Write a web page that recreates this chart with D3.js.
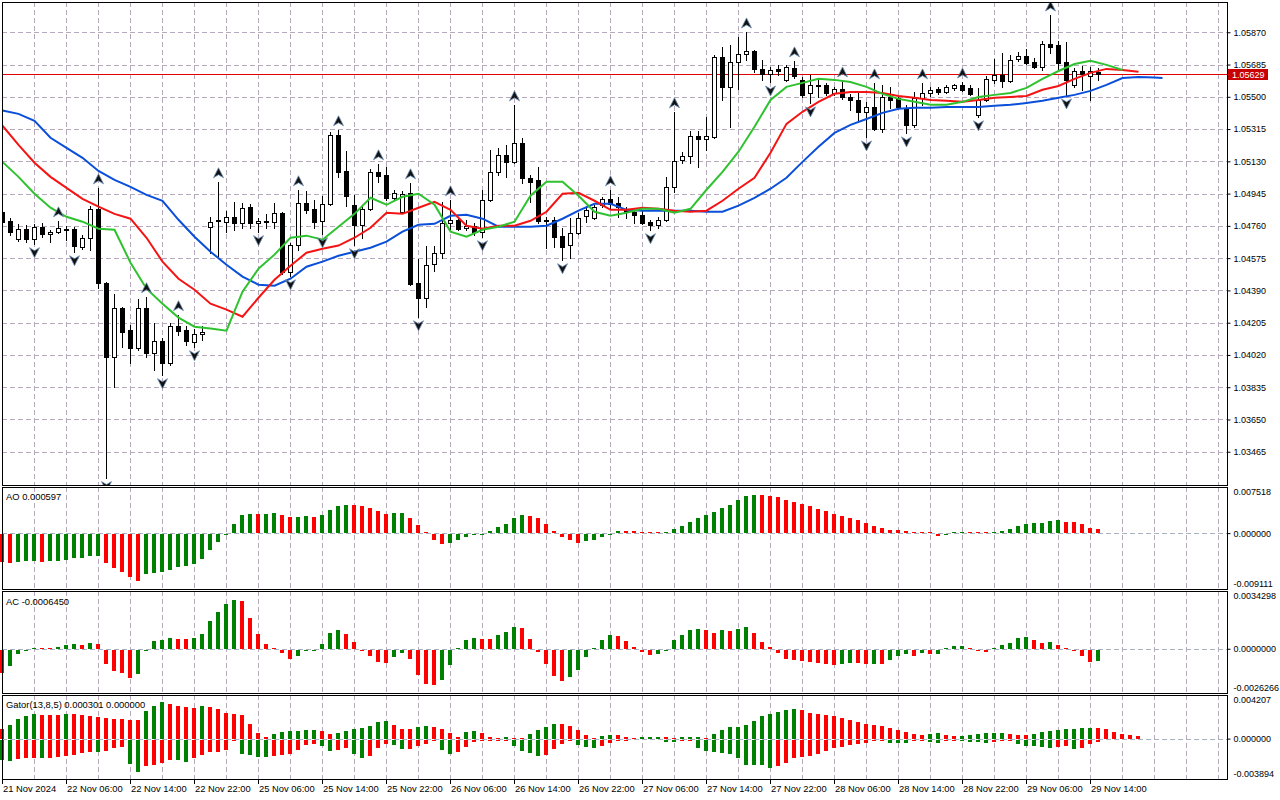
<!DOCTYPE html>
<html>
<head>
<meta charset="utf-8">
<script src="https://cdn.jsdelivr.net/npm/d3@7"></script>
<style>
  body { margin: 0; background: #fff; }
  svg { display: block; font-family: "Liberation Sans", Arial, sans-serif; font-size: 9.4px; }
  .axis text, .tag { font-size: 9px; }
</style>
</head>
<body>
<div id="chart"></div>
<script>
// EURUSD H1 with Alligator, Fractals, AO, AC and Gator

// candles, one per hour from 21 Nov 22:00 to 29 Nov 15:00
const opens = [
  1.04841,1.04789,1.04687,1.04744,1.04687,1.04755,1.04715,1.04727,1.04744,1.04744,
  1.04641,1.04692,1.04858,1.04434,1.04010,1.04291,1.04165,1.04062,1.04291,1.04033,
  1.04102,1.03976,1.04188,1.04165,1.04096,1.04142,1.04755,1.04792,1.04784,1.04812,
  1.04778,1.04870,1.04778,1.04789,1.04784,1.04835,1.04497,1.04652,1.04893,1.04858,
  1.04789,1.04887,1.05282,1.05076,1.04881,1.04766,1.04858,1.05070,1.05053,1.04921,
  1.04841,1.04950,1.04434,1.04348,1.04543,1.04606,1.04778,1.04795,1.04749,1.04761,
  1.04727,1.04910,1.05070,1.05167,1.05127,1.05236,1.05036,1.05024,1.04795,1.04795,
  1.04704,1.04652,1.04721,1.04818,1.04806,1.04881,1.04915,1.04893,1.04858,1.04841,
  1.04824,1.04784,1.04766,1.04795,1.04984,1.05139,1.05162,1.05276,1.05259,1.05270,
  1.05729,1.05557,1.05700,1.05746,1.05763,1.05660,1.05631,1.05660,1.05597,1.05666,
  1.05597,1.05522,1.05568,1.05568,1.05522,1.05545,1.05499,1.05482,1.05414,1.05442,
  1.05316,1.05499,1.05494,1.05437,1.05339,1.05494,1.05522,1.05545,1.05528,1.05551,
  1.05568,1.05551,1.05396,1.05482,1.05597,1.05625,1.05591,1.05717,1.05734,1.05700,
  1.05671,1.05803,1.05797,1.05700,1.05568,1.05648,1.05620,1.05643
];
const highs = [
  1.04852,1.04806,1.04772,1.04766,1.04772,1.04778,1.04738,1.04789,1.04761,1.04755,
  1.04709,1.04876,1.04978,1.04440,1.04371,1.04297,1.04194,1.04343,1.04354,1.04205,
  1.04119,1.04205,1.04251,1.04188,1.04171,1.04188,1.04812,1.05013,1.04847,1.04898,
  1.04893,1.04887,1.04806,1.04829,1.04893,1.04841,1.04664,1.04967,1.04961,1.04910,
  1.04933,1.05299,1.05311,1.05190,1.04938,1.04881,1.05087,1.05116,1.05099,1.04967,
  1.04961,1.05007,1.04572,1.04647,1.04647,1.04898,1.04910,1.04812,1.04795,1.04778,
  1.04967,1.05196,1.05207,1.05225,1.05454,1.05265,1.05053,1.05099,1.04812,1.04812,
  1.04749,1.04806,1.04835,1.04876,1.04881,1.04927,1.04967,1.04927,1.04870,1.04852,
  1.04852,1.04795,1.04812,1.05041,1.05414,1.05185,1.05305,1.05305,1.05385,1.05740,
  1.05786,1.05797,1.05843,1.05872,1.05769,1.05711,1.05671,1.05683,1.05683,1.05706,
  1.05614,1.05625,1.05608,1.05580,1.05557,1.05591,1.05517,1.05528,1.05471,1.05580,
  1.05568,1.05557,1.05505,1.05454,1.05528,1.05580,1.05557,1.05557,1.05568,1.05574,
  1.05585,1.05568,1.05551,1.05620,1.05717,1.05751,1.05740,1.05757,1.05774,1.05723,
  1.05820,1.05969,1.05820,1.05814,1.05666,1.05677,1.05671,1.05666
];
const lows = [
  1.04772,1.04709,1.04675,1.04670,1.04658,1.04698,1.04670,1.04721,1.04681,1.04612,
  1.04629,1.04623,1.04405,1.03317,1.03839,1.04067,1.03976,1.04050,1.04010,1.03936,
  1.03907,1.03964,1.04136,1.04079,1.04067,1.04108,1.04606,1.04589,1.04727,1.04738,
  1.04749,1.04749,1.04727,1.04749,1.04749,1.04486,1.04474,1.04623,1.04835,1.04749,
  1.04715,1.04881,1.05041,1.04876,1.04652,1.04692,1.04852,1.05013,1.04910,1.04910,
  1.04835,1.04423,1.04239,1.04297,1.04503,1.04577,1.04738,1.04738,1.04738,1.04709,
  1.04698,1.04904,1.05053,1.05041,1.05122,1.05007,1.04898,1.04778,1.04635,1.04641,
  1.04566,1.04577,1.04715,1.04784,1.04801,1.04870,1.04864,1.04812,1.04806,1.04778,
  1.04772,1.04738,1.04749,1.04789,1.04956,1.05122,1.05122,1.05099,1.05196,1.05265,
  1.05482,1.05328,1.05545,1.05711,1.05643,1.05597,1.05585,1.05625,1.05591,1.05608,
  1.05499,1.05465,1.05499,1.05511,1.05511,1.05488,1.05425,1.05356,1.05270,1.05311,
  1.05299,1.05437,1.05437,1.05293,1.05328,1.05454,1.05505,1.05517,1.05522,1.05540,
  1.05534,1.05511,1.05385,1.05477,1.05580,1.05557,1.05585,1.05706,1.05688,1.05666,
  1.05654,1.05751,1.05654,1.05511,1.05557,1.05540,1.05482,1.05597
];
const closes = [
  1.04784,1.04727,1.04744,1.04687,1.04755,1.04715,1.04727,1.04749,1.04743,1.04647,
  1.04692,1.04858,1.04434,1.04010,1.04291,1.04154,1.04062,1.04291,1.04033,1.04102,
  1.03976,1.04188,1.04159,1.04102,1.04142,1.04154,1.04784,1.04787,1.04812,1.04778,
  1.04864,1.04778,1.04789,1.04790,1.04835,1.04497,1.04652,1.04893,1.04852,1.04784,
  1.04887,1.05282,1.05070,1.04933,1.04766,1.04858,1.05070,1.05047,1.04921,1.04950,
  1.04944,1.04428,1.04348,1.04537,1.04606,1.04778,1.04795,1.04744,1.04761,1.04727,
  1.04910,1.05070,1.05167,1.05127,1.05236,1.05036,1.05013,1.04789,1.04794,1.04698,
  1.04641,1.04721,1.04806,1.04852,1.04870,1.04915,1.04887,1.04870,1.04841,1.04824,
  1.04778,1.04766,1.04795,1.04984,1.05133,1.05162,1.05276,1.05259,1.05276,1.05729,
  1.05557,1.05700,1.05746,1.05763,1.05660,1.05631,1.05654,1.05648,1.05671,1.05620,
  1.05511,1.05568,1.05566,1.05522,1.05545,1.05499,1.05482,1.05414,1.05442,1.05316,
  1.05499,1.05482,1.05442,1.05339,1.05494,1.05522,1.05540,1.05528,1.05557,1.05568,
  1.05540,1.05517,1.05482,1.05603,1.05625,1.05591,1.05711,1.05734,1.05694,1.05671,
  1.05803,1.05786,1.05694,1.05597,1.05648,1.05631,1.05648,1.05629
];
const lastPrice = 1.05629;

// bars that carry a fractal arrow
const fractalUp = [7, 12, 18, 22, 27, 37, 42, 47, 51, 56, 64, 76, 84, 93, 99, 105, 109, 115, 120, 131];
const fractalDown = [4, 9, 13, 20, 24, 32, 36, 40, 44, 52, 60, 70, 81, 96, 101, 108, 113, 122, 133];

// Alligator, read every second bar (lines are shifted past the last candle)
const jaw = [
  1.05422,1.05402,1.05362,1.05265,1.05207,1.05150,1.05075,1.05024,1.04984,1.04938,
  1.04904,1.04795,1.04698,1.04612,1.04537,1.04469,1.04423,1.04417,1.04457,1.04526,
  1.04555,1.04589,1.04612,1.04635,1.04670,1.04727,1.04766,1.04772,1.04818,1.04824,
  1.04801,1.04755,1.04755,1.04755,1.04761,1.04801,1.04847,1.04887,1.04887,1.04852,
  1.04847,1.04847,1.04847,1.04847,1.04841,1.04841,1.04876,1.04921,1.04973,1.05036,
  1.05127,1.05213,1.05293,1.05339,1.05373,1.05408,1.05431,1.05437,1.05437,1.05442,
  1.05442,1.05442,1.05448,1.05454,1.05465,1.05477,1.05494,1.05511,1.05534,1.05568,
  1.05608,1.05614,1.05611,1.05608
];
const teeth = [
  1.05334,1.05224,1.05122,1.05041,1.04978,1.04915,1.04870,1.04829,1.04801,1.04692,
  1.04555,1.04457,1.04394,1.04314,1.04280,1.04239,1.04348,1.04451,1.04532,1.04606,
  1.04629,1.04647,1.04692,1.04749,1.04835,1.04829,1.04864,1.04898,1.04852,1.04761,
  1.04744,1.04761,1.04761,1.04789,1.04841,1.04944,1.04950,1.04904,1.04852,1.04852,
  1.04864,1.04858,1.04847,1.04841,1.04847,1.04904,1.04973,1.05036,1.05179,1.05345,
  1.05414,1.05471,1.05517,1.05528,1.05528,1.05522,1.05505,1.05494,1.05482,1.05477,
  1.05471,1.05482,1.05494,1.05499,1.05505,1.05540,1.05562,1.05603,1.05637,1.05660,
  1.05654,1.05643
];
const lips = [
  1.05127,1.05041,1.04944,1.04864,1.04812,1.04784,1.04744,1.04738,1.04549,1.04400,
  1.04314,1.04234,1.04182,1.04171,1.04159,1.04383,1.04514,1.04595,1.04692,1.04704,
  1.04681,1.04755,1.04829,1.04921,1.04881,1.04927,1.04944,1.04881,1.04727,1.04698,
  1.04738,1.04755,1.04784,1.04933,1.05013,1.05013,1.04933,1.04841,1.04818,1.04835,
  1.04858,1.04858,1.04835,1.04858,1.04967,1.05070,1.05185,1.05328,1.05482,1.05557,
  1.05580,1.05603,1.05597,1.05585,1.05557,1.05517,1.05488,1.05471,1.05454,1.05454,
  1.05471,1.05499,1.05511,1.05522,1.05551,1.05603,1.05648,1.05688,1.05706,1.05683,
  1.05654
];

const aoValues = [
  -0.00459,-0.00470,-0.00448,-0.00444,-0.00440,-0.00448,-0.00445,-0.00431,-0.00415,-0.00393,
  -0.00382,-0.00355,-0.00349,-0.00464,-0.00546,-0.00612,-0.00693,-0.00759,-0.00655,-0.00628,
  -0.00612,-0.00579,-0.00541,-0.00519,-0.00486,-0.00410,-0.00262,-0.00131,-0.00003,0.00153,
  0.00300,0.00317,0.00314,0.00318,0.00320,0.00289,0.00257,0.00262,0.00273,0.00270,
  0.00289,0.00382,0.00448,0.00464,0.00456,0.00448,0.00415,0.00355,0.00317,0.00320,
  0.00333,0.00251,0.00126,0.00002,-0.00093,-0.00158,-0.00137,-0.00093,-0.00044,-0.00022,
  -0.00005,0.00038,0.00104,0.00153,0.00251,0.00300,0.00284,0.00240,0.00153,0.00038,
  -0.00055,-0.00104,-0.00142,-0.00120,-0.00093,-0.00044,-0.00002,0.00035,0.00033,0.00031,
  0.00018,0.00006,0.00002,0.00004,0.00071,0.00120,0.00186,0.00251,0.00300,0.00349,
  0.00415,0.00464,0.00546,0.00612,0.00628,0.00617,0.00612,0.00595,0.00546,0.00513,
  0.00475,0.00442,0.00399,0.00368,0.00306,0.00284,0.00240,0.00207,0.00158,0.00120,
  0.00076,0.00055,0.00052,0.00038,0.00005,0.00002,0.00001,-0.00027,-0.00002,0.00015,
  0.00018,0.00012,0.00005,0.00001,0.00020,0.00038,0.00071,0.00120,0.00153,0.00158,
  0.00169,0.00202,0.00207,0.00186,0.00180,0.00153,0.00087,0.000597
];
const acValues = [
  -0.00136,-0.00096,-0.00028,-0.00004,0.00004,0.00003,0.00001,0.00012,0.00024,0.00030,
  0.00024,0.00036,0.00030,-0.00082,-0.00126,-0.00136,-0.00167,-0.00142,-0.00002,0.00044,
  0.00054,0.00066,0.00060,0.00056,0.00066,0.00090,0.00167,0.00221,0.00263,0.00287,
  0.00281,0.00185,0.00090,0.00030,0.00001,-0.00022,-0.00054,-0.00036,-0.00010,-0.00001,
  0.00030,0.00096,0.00114,0.00090,0.00042,-0.00004,-0.00036,-0.00072,-0.00078,-0.00040,
  -0.00022,-0.00052,-0.00147,-0.00203,-0.00209,-0.00179,-0.00090,0.00006,0.00054,0.00066,
  0.00060,0.00059,0.00084,0.00102,0.00132,0.00126,0.00060,-0.00012,-0.00084,-0.00155,
  -0.00185,-0.00161,-0.00120,-0.00042,0.00006,0.00054,0.00084,0.00078,0.00048,0.00012,
  -0.00012,-0.00030,-0.00028,-0.00001,0.00054,0.00084,0.00114,0.00120,0.00114,0.00096,
  0.00114,0.00108,0.00120,0.00132,0.00096,0.00042,0.00012,-0.00022,-0.00054,-0.00060,
  -0.00066,-0.00072,-0.00078,-0.00082,-0.00090,-0.00082,-0.00076,-0.00077,-0.00084,-0.00082,
  -0.00084,-0.00060,-0.00036,-0.00028,-0.00036,-0.00022,-0.00028,-0.00027,0.00001,0.00018,
  0.00019,0.00006,-0.00010,-0.00011,0.00006,0.00024,0.00036,0.00066,0.00072,0.00054,
  0.00036,0.00042,0.00024,0.00006,-0.00010,-0.00036,-0.00072,-0.000645
];
const gatorUpper = [
  0.00096,0.00134,0.00192,0.00218,0.00240,0.00230,0.00229,0.00228,0.00240,0.00237,
  0.00224,0.00218,0.00208,0.00202,0.00192,0.00191,0.00182,0.00176,0.00262,0.00317,
  0.00355,0.00336,0.00317,0.00304,0.00298,0.00310,0.00309,0.00285,0.00250,0.00234,
  0.00227,0.00144,0.00058,0.00019,0.00048,0.00067,0.00077,0.00078,0.00080,0.00086,
  0.00077,0.00048,0.00051,0.00077,0.00096,0.00099,0.00125,0.00163,0.00173,0.00134,
  0.00096,0.00090,0.00112,0.00125,0.00115,0.00096,0.00058,0.00019,0.00067,0.00077,
  0.00058,0.00019,0.00010,0.00019,0.00010,0.00003,0.00048,0.00086,0.00115,0.00144,
  0.00143,0.00125,0.00086,0.00038,0.00010,0.00029,0.00038,0.00037,0.00019,0.00010,
  0.00011,0.00019,0.00020,0.00018,0.00010,0.00011,0.00019,0.00020,0.00010,0.00048,
  0.00086,0.00115,0.00116,0.00134,0.00173,0.00221,0.00240,0.00259,0.00278,0.00288,
  0.00278,0.00250,0.00240,0.00230,0.00221,0.00202,0.00182,0.00163,0.00144,0.00134,
  0.00125,0.00106,0.00086,0.00067,0.00048,0.00038,0.00048,0.00050,0.00038,0.00029,
  0.00030,0.00038,0.00048,0.00051,0.00058,0.00059,0.00048,0.00038,0.00037,0.00048,
  0.00067,0.00077,0.00086,0.00088,0.00096,0.00098,0.00106,0.00104,0.00096,0.00067,
  0.00048,0.00038,0.000301
];
const gatorLower = [
  -0.00198,-0.00208,-0.00186,-0.00179,-0.00178,-0.00180,-0.00179,-0.00170,-0.00154,-0.00144,
  -0.00128,-0.00118,-0.00119,-0.00106,-0.00083,-0.00074,-0.00237,-0.00314,-0.00256,-0.00246,
  -0.00227,-0.00195,-0.00198,-0.00218,-0.00176,-0.00144,-0.00122,-0.00121,-0.00102,-0.00006,
  -0.00134,-0.00150,-0.00163,-0.00170,-0.00160,-0.00150,-0.00134,-0.00096,-0.00048,-0.00045,
  -0.00064,-0.00112,-0.00099,-0.00080,-0.00134,-0.00176,-0.00160,-0.00080,-0.00038,-0.00054,
  -0.00093,-0.00090,-0.00064,-0.00038,-0.00002,-0.00096,-0.00134,-0.00115,-0.00067,-0.00019,
  -0.00003,-0.00002,-0.00001,-0.00001,-0.00058,-0.00106,-0.00125,-0.00154,-0.00144,-0.00086,
  -0.00038,-0.00002,-0.00048,-0.00067,-0.00077,-0.00058,-0.00029,-0.00002,-0.00001,0,
  0,0,0,-0.00019,-0.00020,-0.00018,-0.00002,-0.00077,-0.00106,-0.00115,
  -0.00125,-0.00134,-0.00182,-0.00240,-0.00241,-0.00242,-0.00269,-0.00259,-0.00221,-0.00182,
  -0.00163,-0.00154,-0.00134,-0.00106,-0.00077,-0.00067,-0.00048,-0.00038,-0.00029,-0.00005,
  -0.00003,-0.00029,-0.00030,-0.00031,-0.00003,-0.00002,-0.00019,-0.00029,-0.00002,-0.00001,
  -0.00010,-0.00019,-0.00021,-0.00029,-0.00019,-0.00010,-0.00003,-0.00038,-0.00058,-0.00059,
  -0.00067,-0.00077,-0.00067,-0.00064,-0.00086,-0.00077,-0.00038,-0.00019
];

const priceTicks = [1.05870, 1.05685, 1.05500, 1.05315, 1.05130, 1.04945, 1.04760,
                    1.04575, 1.04390, 1.04205, 1.04020, 1.03835, 1.03650, 1.03465];
const timeLabels = ['21 Nov 2024', '22 Nov 06:00', '22 Nov 14:00', '22 Nov 22:00', '25 Nov 06:00',
  '25 Nov 14:00', '25 Nov 22:00', '26 Nov 06:00', '26 Nov 14:00', '26 Nov 22:00', '27 Nov 06:00',
  '27 Nov 14:00', '27 Nov 22:00', '28 Nov 06:00', '28 Nov 14:00', '28 Nov 22:00', '29 Nov 06:00',
  '29 Nov 14:00'];

// ---------------------------------------------------------------------------

const GREEN = '#008000', RED = '#ff0000', GRID = '#b7a9bd';
const left = 2, right = 1227;

// plain hyphen for negatives, like the terminal
const fmt = d3.formatLocale({ decimal: '.', thousands: ',', grouping: [3], currency: ['', ''], minus: '-' }).format;

// pane boxes [top, bottom]
const mainBox = [2, 485], aoBox = [487, 589], acBox = [591, 693], gatorBox = [695, 779];

const svg = d3.select('#chart').append('svg')
    .attr('width', 1280)
    .attr('height', 800);

// one bar every 8 px
const x = d3.scaleLinear().domain([0, 153]).range([2, 1226]);

const yMain = d3.scaleLinear().domain([1.032744, 1.060435]).range([mainBox[1], mainBox[0]]);
const yAO = d3.scaleLinear().domain([-0.009111, 0.007518]).range([aoBox[1], aoBox[0]]);
const yAC = d3.scaleLinear().domain([-0.0026266, 0.0034298]).range([acBox[1], acBox[0]]);
const yGator = d3.scaleLinear().domain([-0.003894, 0.004207]).range([gatorBox[1], gatorBox[0]]);

const crisp = v => Math.round(v) + 0.5;

// vertical grid, every 4 bars across all panes
const vGrid = d3.range(4, 153, 4);
[mainBox, aoBox, acBox, gatorBox].forEach(box => {
    svg.append('g')
        .selectAll('line')
        .data(vGrid)
        .join('line')
        .attr('x1', d => crisp(x(d)))
        .attr('x2', d => crisp(x(d)))
        .attr('y1', box[0])
        .attr('y2', box[1])
        .attr('stroke', GRID)
        .attr('stroke-dasharray', '5,3');
});

// horizontal grid in main pane
svg.append('g')
    .selectAll('line')
    .data(priceTicks)
    .join('line')
    .attr('x1', left)
    .attr('x2', right)
    .attr('y1', d => crisp(yMain(d)))
    .attr('y2', d => crisp(yMain(d)))
    .attr('stroke', GRID)
    .attr('stroke-dasharray', '5,3');

// zero lines in indicator panes
[yAO, yAC, yGator].forEach(y => {
    svg.append('line')
        .attr('x1', left).attr('x2', right)
        .attr('y1', crisp(y(0))).attr('y2', crisp(y(0)))
        .attr('stroke', '#a9b3bf')
        .attr('stroke-dasharray', '5,3');
});

// ---- main pane ----
svg.append('clipPath').attr('id', 'clipMain')
    .append('rect')
    .attr('x', left).attr('y', mainBox[0])
    .attr('width', right - left).attr('height', mainBox[1] - mainBox[0]);

const main = svg.append('g').attr('clip-path', 'url(#clipMain)');

// current price line
main.append('line')
    .attr('x1', left).attr('x2', right)
    .attr('y1', crisp(yMain(lastPrice))).attr('y2', crisp(yMain(lastPrice)))
    .attr('stroke', '#e00000');

const bars = d3.range(opens.length);

main.append('g')
    .selectAll('line')
    .data(bars)
    .join('line')
    .attr('x1', i => x(i) + 0.5)
    .attr('x2', i => x(i) + 0.5)
    .attr('y1', i => Math.round(yMain(highs[i])))
    .attr('y2', i => Math.round(yMain(lows[i])) + 1)
    .attr('stroke', '#000');

main.append('g')
    .selectAll('rect')
    .data(bars)
    .join('rect')
    .attr('x', i => x(i) - 1.5)
    .attr('width', 4)
    .attr('y', i => Math.round(yMain(Math.max(opens[i], closes[i]))) + 0.5)
    .attr('height', i => Math.max(1,
        Math.round(yMain(Math.min(opens[i], closes[i]))) - Math.round(yMain(Math.max(opens[i], closes[i])))))
    .attr('fill', i => closes[i] > opens[i] ? '#fff' : '#000')
    .attr('stroke', '#000');

// Alligator lines
const jawBars = d3.range(0, 145, 2).concat(145);
const teethBars = d3.range(0, 143, 2);
const lipsBars = d3.range(0, 141, 2);

[[jaw, jawBars, '#0a4fd9'], [teeth, teethBars, '#f41414'], [lips, lipsBars, '#2fc22f']]
    .forEach(([values, idx, color]) => {
        main.append('path')
            .datum(values)
            .attr('d', d3.line().x((d, i) => x(idx[i]) + 0.5).y(d => yMain(d)))
            .attr('fill', 'none')
            .attr('stroke', color)
            .attr('stroke-width', 2);
    });

// fractal arrows
const upArrow = 'M0,-5L5,5L0,2L-5,5Z';
const downArrow = 'M0,5L5,-5L0,-2L-5,-5Z';

main.append('g')
    .selectAll('path')
    .data(fractalUp)
    .join('path')
    .attr('d', upArrow)
    .attr('transform', i => `translate(${x(i) + 0.5},${yMain(highs[i]) - 9})`)
    .attr('fill', '#111')
    .attr('stroke', '#6d8fb5')
    .attr('stroke-width', 0.8);

main.append('g')
    .selectAll('path')
    .data(fractalDown)
    .join('path')
    .attr('d', downArrow)
    .attr('transform', i => `translate(${x(i) + 0.5},${yMain(lows[i]) + 9})`)
    .attr('fill', '#111')
    .attr('stroke', '#6d8fb5')
    .attr('stroke-width', 0.8);

// ---- indicator histograms ----
function trendColors(values, first, key = v => v) {
    return values.map((v, i) => i === 0 ? first : (key(v) > key(values[i - 1]) ? GREEN : RED));
}

function histogram(values, y, colors) {
    const y0 = Math.round(y(0));
    svg.append('g')
        .selectAll('rect')
        .data(values)
        .join('rect')
        .attr('x', (d, i) => x(i) - 2)
        .attr('width', 4)
        .attr('y', d => d >= 0 ? y0 - Math.max(1, y0 - Math.round(y(d))) : y0 + 1)
        .attr('height', d => d === 0 ? 0 : Math.max(1, Math.abs(Math.round(y(d)) - y0)))
        .attr('fill', (d, i) => colors[i]);
}

histogram(aoValues, yAO, trendColors(aoValues, RED));
histogram(acValues, yAC, trendColors(acValues, RED));
histogram(gatorUpper, yGator, trendColors(gatorUpper, RED));
histogram(gatorLower, yGator, trendColors(gatorLower, GREEN, Math.abs));

// ---- pane borders ----
[mainBox, aoBox, acBox, gatorBox].forEach(box => {
    svg.append('rect')
        .attr('x', left + 0.5).attr('y', box[0] + 0.5)
        .attr('width', right - left).attr('height', box[1] - box[0])
        .attr('fill', 'none')
        .attr('stroke', '#000');
});

// ---- axes ----
function styleAxis(g) {
    g.select('.domain').remove();
    g.attr('font-family', null).attr('font-size', null).attr('class', 'axis');
    g.selectAll('text').attr('fill', '#000');
    g.selectAll('line').attr('stroke', '#000');
}

svg.append('g')
    .attr('transform', `translate(${right + 0.5},0)`)
    .call(d3.axisRight(yMain).tickValues(priceTicks).tickSize(3).tickFormat(fmt('.5f')))
    .call(styleAxis);

function indicatorAxis(y, spec) {
    const [lo, hi] = y.domain();
    const g = svg.append('g')
        .attr('transform', `translate(${right + 0.5},0)`)
        .call(d3.axisRight(y).tickValues([hi, 0, lo]).tickSize(3).tickFormat(fmt(spec)))
        .call(styleAxis);
    // top and bottom labels sit inside the pane
    g.selectAll('.tick text').attr('transform', d => d === hi ? 'translate(0,5)' : d === lo ? 'translate(0,-5)' : null);
    g.selectAll('.tick line').filter(d => d !== 0).remove();
}
indicatorAxis(yAO, '.6f');
indicatorAxis(yAC, '.7f');
indicatorAxis(yGator, '.6f');

// current price tag
const tagY = Math.round(yMain(lastPrice));
svg.append('rect')
    .attr('x', right + 1).attr('y', tagY - 5)
    .attr('width', 40).attr('height', 11)
    .attr('fill', '#c80000');
svg.append('text')
    .attr('class', 'tag')
    .attr('x', right + 5).attr('y', tagY + 4)
    .attr('fill', '#fff')
    .text(fmt('.5f')(lastPrice));

// pane titles
svg.append('text').attr('x', 6).attr('y', 500)
    .text(`AO ${fmt('.6f')(aoValues.at(-1))}`);
svg.append('text').attr('x', 6).attr('y', 605)
    .text(`AC ${fmt('.7f')(acValues.at(-1))}`);
svg.append('text').attr('x', 6).attr('y', 708)
    .text(`Gator(13,8,5) ${fmt('.6f')(gatorUpper.at(-1))} ${fmt('.6f')(0)}`);

// time axis
const timeG = svg.append('g');
timeG.selectAll('line')
    .data(timeLabels)
    .join('line')
    .attr('x1', (d, i) => crisp(x(i * 8)))
    .attr('x2', (d, i) => crisp(x(i * 8)))
    .attr('y1', gatorBox[1])
    .attr('y2', gatorBox[1] + 5)
    .attr('stroke', '#000');
timeG.selectAll('text')
    .data(timeLabels)
    .join('text')
    .attr('x', (d, i) => x(i * 8) + 1)
    .attr('y', 792)
    .text(d => d);
</script>
</body>
</html>
